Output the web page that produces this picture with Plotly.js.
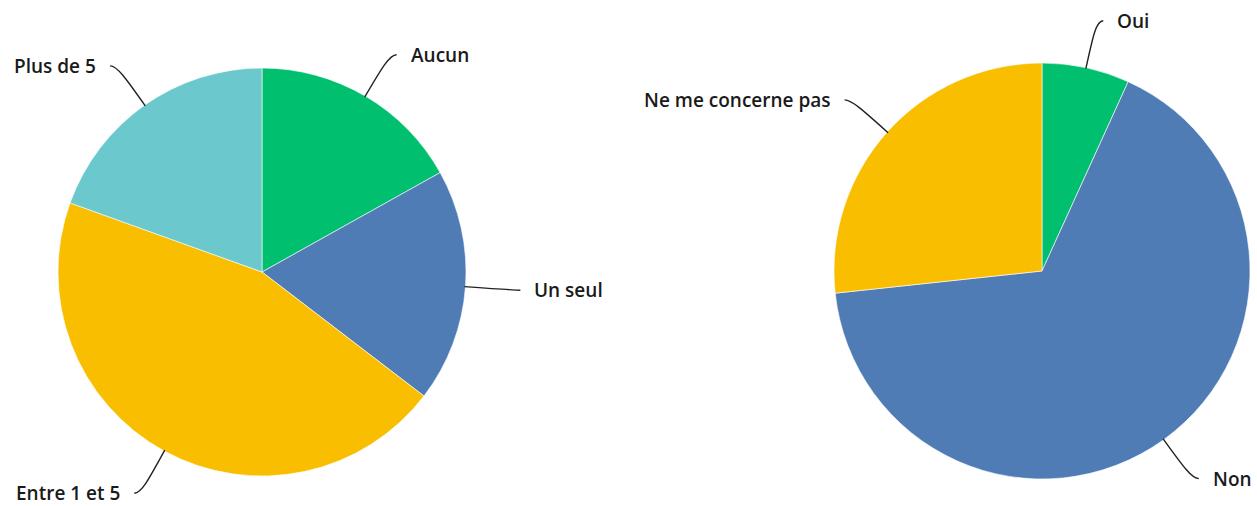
<!DOCTYPE html>
<html>
<head>
<meta charset="utf-8">
<script src="https://cdn.plot.ly/plotly-3.0.1.min.js"></script>
<style>
html,body{margin:0;padding:0;background:#fff;}
#chart{width:1257px;height:506px;}
</style>
</head>
<body>
<div id="chart"></div>
<script>
// ---- Data ----
const leftLabels = ['Aucun', 'Un seul', 'Entre 1 et 5', 'Plus de 5'];
const leftValues = [16.9, 18.5, 45.1, 19.5];
const leftColors = ['#00BF6F', '#507CB6', '#F9BE00', '#6BC8CD'];

const rightLabels = ['Oui', 'Non', 'Ne me concerne pas'];
const rightValues = [6.8, 66.5, 26.7];
const rightColors = ['#00BF6F', '#507CB6', '#F9BE00'];

// ---- Layout geometry (pixels) ----
const W = 1257, H = 506;
const pies = [
  {labels: leftLabels, values: leftValues, colors: leftColors, cx: 262, cy: 272, r: 204},
  {labels: rightLabels, values: rightValues, colors: rightColors, cx: 1042, cy: 271, r: 208}
];
const LEAD = 48, TAIL = 7, GAP = 13;
const FONT = {family: 'Open Sans, sans-serif', size: 19, color: '#1a1a1a', weight: 600};

const traces = [], shapes = [], annotations = [];
const px = x => x / W, py = y => 1 - y / H;

pies.forEach(p => {
  traces.push({
    type: 'pie',
    labels: p.labels,
    values: p.values,
    sort: false,
    direction: 'clockwise',
    rotation: 0,
    textinfo: 'none',
    hoverinfo: 'label+percent',
    marker: {colors: p.colors, line: {color: '#ffffff', width: 0.6}},
    domain: {x: [px(p.cx - p.r), px(p.cx + p.r)], y: [py(p.cy + p.r), py(p.cy - p.r)]}
  });
  const total = p.values.reduce((a, b) => a + b, 0);
  let cum = 0;
  p.values.forEach((v, i) => {
    const mid = (cum + v / 2) / total * 2 * Math.PI;
    cum += v;
    const s = Math.sin(mid), c = Math.cos(mid);
    const pt = rad => [p.cx + rad * s, p.cy - rad * c];
    const side = s >= 0 ? 1 : -1;
    const p0 = pt(p.r - 1);
    const c1 = pt(p.r + LEAD * 0.7);
    const q = pt(p.r + LEAD);
    const end = [q[0] + side * TAIL, q[1]];
    const path = `M ${px(p0[0])},${py(p0[1])} C ${px(c1[0])},${py(c1[1])} ${px(q[0])},${py(q[1])} ${px(end[0])},${py(end[1])}`;
    shapes.push({type: 'path', xref: 'paper', yref: 'paper', path: path,
      line: {color: '#222222', width: 1.4}});
    annotations.push({
      xref: 'paper', yref: 'paper',
      x: px(end[0] + side * GAP), y: py(end[1]),
      xanchor: side > 0 ? 'left' : 'right', yanchor: 'middle',
      borderpad: 0,
      text: p.labels[i], showarrow: false, font: FONT
    });
  });
});

const layout = {
  width: W, height: H,
  margin: {l: 0, r: 0, t: 0, b: 0},
  paper_bgcolor: '#ffffff',
  showlegend: false,
  shapes: shapes,
  annotations: annotations
};

Plotly.newPlot('chart', traces, layout, {displayModeBar: false, staticPlot: false});
</script>
</body>
</html>
